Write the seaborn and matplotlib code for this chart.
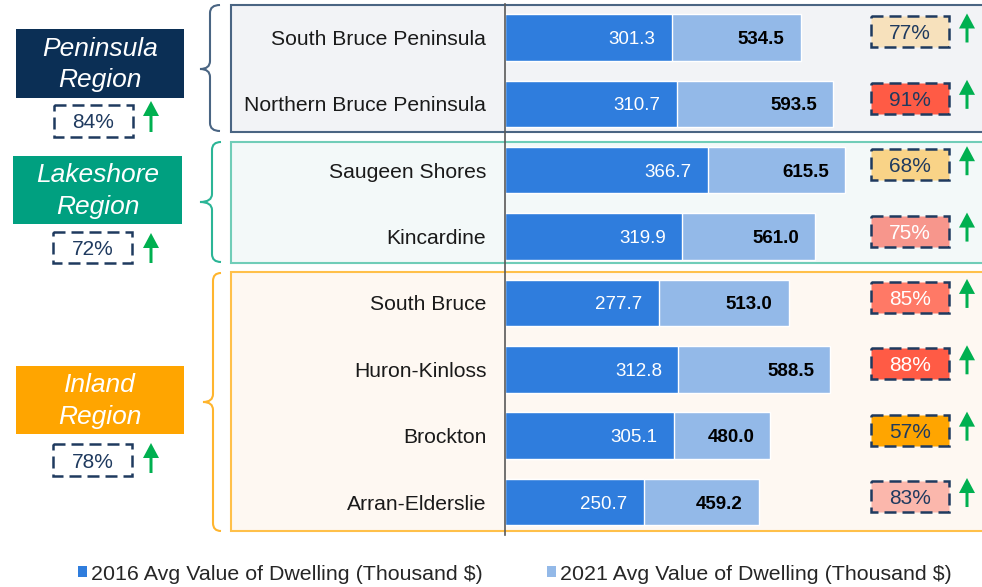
import matplotlib
matplotlib.use("Agg")
import matplotlib.pyplot as plt
import matplotlib.transforms as mtransforms
from matplotlib.patches import Rectangle, Polygon, PathPatch, Patch
from matplotlib.path import Path
import seaborn as sns
import pandas as pd
import numpy as np

# ---------------- data ----------------
municipalities = ["South Bruce Peninsula", "Northern Bruce Peninsula", "Saugeen Shores",
                  "Kincardine", "South Bruce", "Huron-Kinloss", "Brockton", "Arran-Elderslie"]
value_2016 = [301.3, 310.7, 366.7, 319.9, 277.7, 312.8, 305.1, 250.7]
value_2021 = [534.5, 593.5, 615.5, 561.0, 513.0, 588.5, 480.0, 459.2]
pct_change = ["77%", "91%", "68%", "75%", "85%", "88%", "57%", "83%"]
regions = ["Peninsula\nRegion", "Lakeshore\nRegion", "Inland\nRegion"]
region_pct = ["84%", "72%", "78%"]
legend_labels = ["2016 Avg Value of Dwelling (Thousand $)", "2021 Avg Value of Dwelling (Thousand $)"]

# ---------------- styles ----------------
pct_fill = ["#F7E1BC", "#FF5B45", "#F9D387", "#F7968C", "#FF7966", "#FF5B45", "#FFA500", "#FBB7AC"]
pct_text = ["#1F3A5F", "#1F3A5F", "#1F3A5F", "white", "white", "white", "#1F3A5F", "#1F3A5F"]
region_fill = ["#0B2F55", "#00A080", "#FFA500"]
region_edge = ["#4A6583", "#70CDB8", "#FFC04A"]
region_bg = ["#F2F3F6", "#F3F9F9", "#FEF8F2"]
brace_col = ["#4A6583", "#2BB596", "#FFB52E"]
DARK = "#2F7DDD"
LIGHT = "#93B9E8"
NAVY = "#1F3A5F"
GREEN = "#00B050"
DASH = (0, (4.8, 2.4))

sns.set_style("white")
plt.rcParams["font.family"] = ["Liberation Sans", "DejaVu Sans"]

W, H = 982, 587
fig = plt.figure(figsize=(W / 100, H / 100), dpi=100)
# pixel transform (origin top-left)
pxT = mtransforms.Affine2D().scale(1 / W, -1 / H).translate(0, 1) + fig.transFigure

ax_top, ax_bot, ax_left = 4.3, 535.2, 505
ax = fig.add_axes([ax_left / W, 1 - ax_bot / H, (W - ax_left) / W, (ax_bot - ax_top) / H])
ax.set_facecolor("none")

df = pd.DataFrame({"Municipality": municipalities, "v2016": value_2016, "v2021": value_2021})
sns.barplot(data=df, y="Municipality", x="v2021", orient="h", color=LIGHT, saturation=1,
            width=0.7, edgecolor="white", linewidth=1, ax=ax, zorder=2)
sns.barplot(data=df, y="Municipality", x="v2016", orient="h", color=DARK, saturation=1,
            width=0.7, edgecolor="white", linewidth=1, ax=ax, zorder=3)

scale = 0.553  # px per unit
ax.set_xlim(0, (W - ax_left) / scale)
ax.set_ylim(len(municipalities) - 0.5, -0.5)
ax.set_xlabel("")
ax.set_ylabel("")
ax.set_xticks([])
for s in ["top", "right", "bottom"]:
    ax.spines[s].set_visible(False)
ax.spines["left"].set_color("#595959")
ax.spines["left"].set_linewidth(1.2)
ax.spines["left"].set_zorder(5)
ax.set_yticks(range(len(municipalities)))
ax.set_yticklabels(municipalities, fontsize=15.2, color="#1a1a1a")
ax.tick_params(axis="y", which="major", length=0, pad=13.5)
ax.set_yticks(np.arange(-0.5, len(municipalities), 1.0), minor=True)
ax.tick_params(axis="y", which="minor", length=5, width=1.2, color="#595959", direction="out")

for i, (a, b) in enumerate(zip(value_2016, value_2021)):
    ax.annotate(f"{a:.1f}", xy=(a, i), xytext=(-16, 0), textcoords="offset pixels",
                ha="right", va="center_baseline", fontsize=13.5, color="white", zorder=6)
    ax.annotate(f"{b:.1f}", xy=(b, i), xytext=(-16, 0), textcoords="offset pixels",
                ha="right", va="center_baseline", fontsize=13.5, color="black",
                fontweight="bold", zorder=6)

# ---------------- region background boxes ----------------
region_rows = [(5, 132), (142, 263), (272, 531)]
for (y0, y1), fc, ec in zip(region_rows, region_bg, region_edge):
    r = Rectangle((231, y0), W + 10 - 231, y1 - y0, transform=pxT, facecolor=fc,
                  edgecolor=ec, linewidth=1.5, zorder=-1)
    fig.add_artist(r)

# braces
def brace(x_end, x_v, x_tip, y0, y1, ymid, color):
    r = 8
    verts = [(x_end, y0), (x_v, y0), (x_v, y0 + r),
             (x_v, ymid - r), (x_v, ymid), (x_tip, ymid),
             (x_v, ymid), (x_v, ymid + r),
             (x_v, y1 - r), (x_v, y1), (x_end, y1)]
    codes = [Path.MOVETO, Path.CURVE3, Path.CURVE3,
             Path.LINETO, Path.CURVE3, Path.CURVE3,
             Path.CURVE3, Path.CURVE3,
             Path.LINETO, Path.CURVE3, Path.CURVE3]
    p = PathPatch(Path(verts, codes), transform=pxT, facecolor="none", edgecolor=color,
                  linewidth=1.5, zorder=2)
    fig.add_artist(p)

brace(220, 210, 200, 5, 131, 69, brace_col[0])
brace(221, 212, 200, 142, 262, 202, brace_col[1])
brace(221, 213, 203, 273, 531, 402, brace_col[2])

# arrows
def up_arrow(transform, xc, y_tail, y_tip, head_len, sw=3, hw=16):
    pts = [(xc - sw / 2, y_tail), (xc - sw / 2, y_tip + head_len), (xc - hw / 2, y_tip + head_len),
           (xc, y_tip), (xc + hw / 2, y_tip + head_len), (xc + sw / 2, y_tip + head_len),
           (xc + sw / 2, y_tail)]
    fig.add_artist(Polygon(pts, closed=True, transform=transform, facecolor=GREEN,
                           edgecolor="none", zorder=4))

# ---------------- left region labels ----------------
label_boxes = [(16, 29, 184, 98), (13, 156, 182, 224), (16, 366, 184, 434)]
pct_boxes = [(54, 105, 133, 137), (53, 232, 132, 263), (53, 444, 132, 476)]
arrow_y = [(132, 101), (263, 233), (473, 443)]
for k in range(3):
    x0, y0, x1, y1 = label_boxes[k]
    fig.add_artist(Rectangle((x0, y0), x1 - x0, y1 - y0, transform=pxT,
                             facecolor=region_fill[k], edgecolor="none", zorder=2))
    fig.text((x0 + x1) / 2, (y0 + y1) / 2 + 1, regions[k], transform=pxT, ha="center",
             va="center", fontsize=19, style="italic", color="white", linespacing=1.38,
             zorder=3)
    bx0, by0, bx1, by1 = pct_boxes[k]
    fig.add_artist(Rectangle((bx0, by0), bx1 - bx0, by1 - by0, transform=pxT,
                             facecolor="white", edgecolor=NAVY, linewidth=1.8,
                             linestyle=DASH, zorder=2))
    fig.text((bx0 + bx1) / 2, (by0 + by1) / 2, region_pct[k], transform=pxT, ha="center",
             va="center_baseline", fontsize=15, color=NAVY, zorder=3)
    up_arrow(pxT, 151, arrow_y[k][0], arrow_y[k][1], 15)

# ---------------- right pct-change boxes ----------------
rowh = (ax_bot - ax_top) / len(municipalities)
bT = mtransforms.blended_transform_factory(pxT, ax.transData)
bh = 31 / rowh
for i in range(len(municipalities)):
    yc = i - 5.5 / rowh
    fig.add_artist(Rectangle((871, yc - bh / 2), 78, bh, transform=bT,
                             facecolor=pct_fill[i], edgecolor=NAVY, linewidth=1.8,
                             linestyle=DASH, zorder=4))
    fig.text(910, yc, pct_change[i], transform=bT, ha="center", va="center_baseline",
             fontsize=15, color=pct_text[i], zorder=5)
    up_arrow(bT, 967, i + 5 / rowh, i - 24 / rowh, 15 / rowh)

# ---------------- legend ----------------
handles = [Patch(facecolor=DARK, edgecolor="none"), Patch(facecolor=LIGHT, edgecolor="none")]
fig.legend(handles, legend_labels, loc="center left", bbox_to_anchor=(78 / W, 1 - 574 / H),
           ncol=2, frameon=False, fontsize=15.4, handlelength=0.42, handleheight=0.42,
           handletextpad=0.2, columnspacing=3.0, borderpad=0, borderaxespad=0)

fig.savefig("out.png", dpi=100)
